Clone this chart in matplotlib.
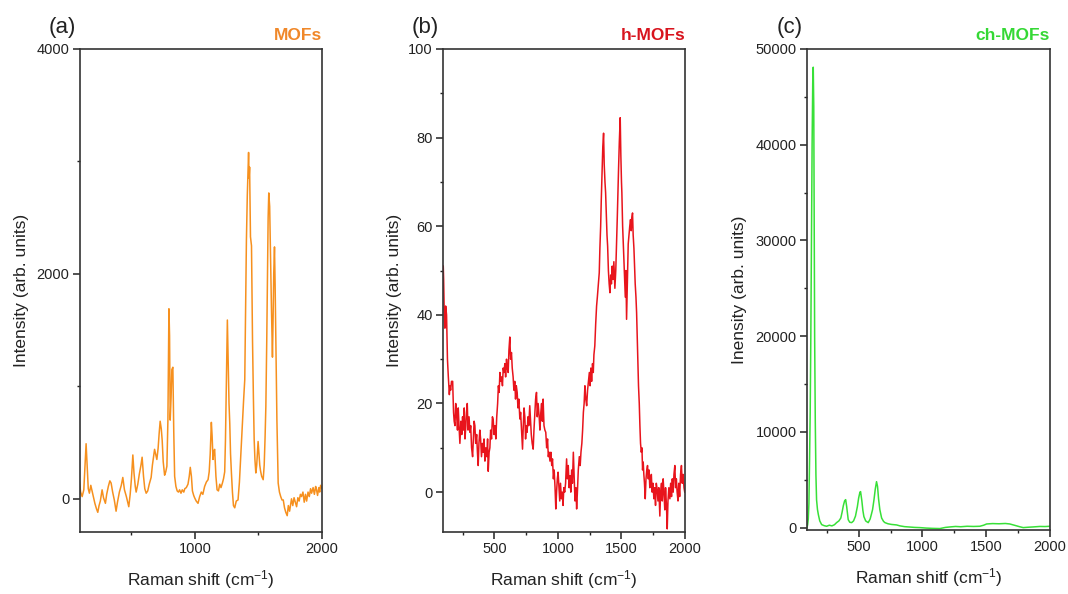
import numpy as np
import matplotlib
matplotlib.use('Agg')
import matplotlib.pyplot as plt
from matplotlib.ticker import MultipleLocator

plt.rcParams['font.family'] = ['Liberation Sans', 'DejaVu Sans']
plt.rcParams['mathtext.fontset'] = 'custom'
plt.rcParams['mathtext.rm'] = 'Liberation Sans'
plt.rcParams['mathtext.it'] = 'Liberation Sans:italic'
plt.rcParams['mathtext.bf'] = 'Liberation Sans:bold'

# (a) MOFs
mof_x = [90, 100, 112, 125, 135, 143, 150, 160, 169, 180, 190, 200, 212, 225, 235, 245, 255, 269, 280, 295,
         305, 318, 330, 340, 352, 365, 379, 390, 405, 420, 432, 445, 460, 479, 490, 500, 511, 520, 530, 537,
         550, 562, 575, 584, 595, 605, 616, 628, 640, 655, 665, 675, 682, 690, 700, 710, 718, 726, 735, 742,
         750, 761, 770, 779, 787, 795, 800, 805, 812, 818, 826, 833, 840, 850, 860, 870, 879, 890, 900, 912,
         920, 932, 945, 955, 963, 972, 980, 990, 997, 1010, 1024, 1037, 1050, 1062, 1076, 1090, 1103, 1112,
         1120, 1129, 1135, 1142, 1148, 1155, 1165, 1174, 1185, 1195, 1205, 1216, 1225, 1234, 1240, 1247, 1255,
         1262, 1268, 1274, 1280, 1287, 1295, 1303, 1313, 1325, 1339, 1350, 1358, 1366, 1375, 1383, 1392, 1398,
         1405, 1412, 1418, 1422, 1426, 1430, 1437, 1445, 1453, 1460, 1466, 1472, 1479, 1486, 1490, 1497, 1505,
         1510, 1516, 1525, 1537, 1545, 1552, 1558, 1565, 1571, 1576, 1581, 1588, 1595, 1602, 1610, 1615, 1620,
         1626, 1631, 1637, 1645, 1655, 1665, 1675, 1685, 1695, 1705, 1715, 1726, 1735, 1745, 1760, 1770, 1780,
         1790, 1800, 1810, 1820, 1830, 1839, 1850, 1860, 1870, 1879, 1890, 1900, 1910, 1918, 1930, 1940, 1950,
         1957, 1965, 1975, 1982, 1989, 2000]
mof_y = [150, 60, 20, 80, 300, 490, 330, 90, 50, 120, 70, 20, -40, -90, -120, -60, -20, 80, 10, -40,
         40, 110, 160, 140, 60, -10, -110, -30, 60, 120, 190, 80, 20, -70, 40, 180, 390, 230, 110, 60,
         130, 220, 300, 370, 200, 90, 50, 70, 130, 190, 300, 380, 440, 400, 350, 450, 580, 690, 620, 520,
         330, 210, 240, 290, 700, 1690, 1450, 700, 900, 1150, 1170, 600, 200, 110, 70, 60, 80, 50, 80, 60,
         90, 100, 130, 200, 280, 200, 70, 30, 10, -20, -40, 20, 60, 40, 110, 150, 170, 240,
         400, 680, 560, 350, 420, 440, 200, 80, 70, 130, 100, 140, 180, 240, 520, 1000, 1590,
         1200, 850, 670, 400, 230, 60, -60, -80, -20, -10, 150, 330, 520, 700, 880, 1060, 1600,
         2300, 2700, 2920, 3080, 2850, 2950, 2330, 2250, 1410, 900, 530, 350, 230, 300, 380, 510, 380,
         300, 250, 200, 170, 300, 550, 820, 1400, 2000, 2500, 2720, 2600, 2150, 1700, 1260, 1600, 2000,
         2240, 1900, 1410, 700, 140, 60, 20, -10, -10, -80, -120, -150, -60, -110, 0, -60, 10,
         -30, -70, 10, -20, 40, 20, 60, -30, 40, -20, 60, 20, 90, 50, 100, 40, 110,
         80, 30, 100, 60, 120, 90]

# (b) h-MOFs
hmof_x = [97, 100, 105, 110, 116, 123, 130, 137, 145, 150, 155, 162, 171, 178, 183, 189, 195, 203, 209, 215,
          221, 228, 236, 243, 249, 255, 262, 268, 275, 280, 286, 292, 300, 307, 313, 320, 328, 334, 340, 346,
          352, 360, 366, 372, 378, 385, 391, 398, 405, 412, 418, 425, 432, 440, 446, 451, 458, 464, 470, 477,
          484, 490, 497, 504, 511, 518, 525, 531, 537, 543, 550, 556, 563, 569, 575, 582, 588, 595, 601, 608,
          614, 621, 627, 634, 640, 647, 653, 660, 666, 672, 679, 685, 692, 700, 706, 713, 721, 727, 733, 739,
          745, 751, 757, 764, 770, 778, 784, 790, 797, 805, 811, 818, 824, 831, 837, 844, 852, 858, 865, 871,
          877, 883, 890, 897, 904, 911, 918, 924, 930, 937, 944, 951, 957, 964, 970, 977, 983, 989, 995, 1001,
          1008, 1014, 1020, 1027, 1034, 1040, 1046, 1053, 1060, 1068, 1074, 1081, 1088, 1095, 1101, 1108, 1114,
          1121, 1128, 1134, 1141, 1147, 1153, 1160, 1168, 1175, 1181, 1188, 1194, 1200, 1206, 1212, 1219, 1226,
          1233, 1240, 1247, 1253, 1259, 1265, 1272, 1278, 1283, 1290, 1297, 1304, 1310, 1318, 1325, 1330, 1336,
          1341, 1347, 1353, 1359, 1364, 1370, 1375, 1381, 1386, 1391, 1397, 1403, 1409, 1415, 1421, 1427, 1433,
          1440, 1448, 1455, 1461, 1467, 1472, 1477, 1483, 1490, 1495, 1500, 1503, 1509, 1514, 1519, 1525, 1530,
          1535, 1540, 1546, 1553, 1559, 1565, 1571, 1577, 1582, 1587, 1592, 1598, 1603, 1608, 1614, 1619, 1624,
          1629, 1634, 1640, 1645, 1650, 1656, 1661, 1666, 1671, 1676, 1681, 1687, 1693, 1699, 1705, 1711, 1717,
          1723, 1729, 1735, 1741, 1748, 1755, 1761, 1768, 1774, 1781, 1787, 1794, 1802, 1808, 1815, 1821, 1828,
          1834, 1841, 1847, 1854, 1860, 1866, 1873, 1881, 1887, 1894, 1900, 1907, 1913, 1920, 1926, 1932, 1938,
          1945, 1951, 1958, 1965, 1972, 1978, 1985, 1992, 1998]
hmof_y = [51, 48, 40, 37, 42, 40, 30, 26, 22, 24, 23, 25, 25, 18, 16, 15, 20, 17, 14, 19,
          15, 11, 16, 13, 17, 14, 19, 12, 15, 18, 20, 14, 17, 13.5, 15, 10, 8, 12, 16, 15,
          11, 13, 9, 6, 11, 14, 12, 8, 11, 9, 12, 7, 10, 8, 12, 4.7, 9, 10, 14, 12,
          17, 16.4, 13, 15, 12, 17, 20, 24, 22.5, 27, 25, 26, 24, 28, 27, 29, 26, 30, 28, 27,
          32, 35, 30, 31.5, 28, 26, 23, 25, 21, 24, 22.5, 19, 21, 16.5, 18, 14, 9.7, 15, 19, 17,
          12, 15, 13.5, 17, 15, 19.5, 16, 13, 11, 9.7, 14, 18, 21, 22.5, 17, 20, 17, 14, 18, 20,
          16, 21, 15, 14, 13.5, 10, 12, 8, 9, 7, 9, 6, 7.5, 3, 5, 1, -3.8, 0, 3, 4.5,
          1, -2, 2, -1.5, 0, -3, 1, 0, 2, 7.5, 3, 6, 1, 3.7, 0, 5, 2,
          9, 3, -2, 1, -3.8, 0, 5, 8, 6, 9, 11, 14, 18, 20, 24, 21, 19.5,
          23, 25, 27, 24, 28, 25, 29, 27, 31, 33, 38, 42, 44, 47, 49.5, 55, 60,
          66, 72, 78, 81, 74, 70, 67.6, 62, 58, 55.5, 50, 47, 45, 49, 47, 51, 48,
          52, 46, 50, 56, 62, 68, 73, 79, 84.5, 76, 70, 67.6, 60, 56, 52.5, 48, 44,
          50, 39, 47, 56, 58, 60, 61.5, 59, 62, 63, 58, 55, 51, 47, 44, 40.5, 35,
          29, 24, 20, 15, 11, 9, 10, 5, 6.8, 4, 2, -1.5, 3, 5, 6, 3, 5,
          1, 2.2, 4, 0, 2, -1.5, 1, -3, 2, 0.7, -2, 1, -5.4, 0, 2, -2, 3,
          0, -4, 1, -3, -8.3, -2, 1, -1.5, 2, -1, 3, 0, 4, 6, 1, 3, 0,
          -2, 2, -1, 4, 6, 2, 4, 1, 0]

# (c) ch-MOFs
chmof_x = [95, 100, 105, 110, 115, 120, 125, 130, 135, 140, 144, 148, 152, 155, 160, 165, 170, 177, 184, 195,
           210, 230, 249, 270, 290, 310, 327, 345, 360, 370, 380, 390, 398, 406, 418, 430, 445, 460, 475, 490,
           500, 510, 515, 525, 533, 541, 555, 575, 590, 600, 609, 620, 630, 640, 648, 656, 666, 680, 695, 706,
           730, 758, 797, 824, 860, 900, 940, 981, 1030, 1080, 1137, 1180, 1216, 1260, 1300, 1350, 1400, 1450,
           1480, 1503, 1550, 1600, 1650, 1685, 1720, 1760, 1790, 1830, 1868, 1920, 1960, 2000]
chmof_y = [0, 300, 900, 2500, 7000, 12000, 20000, 30000, 40000, 46500, 48100, 44000, 30000, 19800, 11000, 5500,
           2900, 1900, 1360, 700, 313, 200, 140, 250, 180, 300, 520, 700, 1000, 1600, 2300, 2800, 2920, 2200,
           835, 560, 520, 700, 1200, 2200, 3100, 3700, 3760, 2800, 1800, 1150, 700, 520, 900, 1400, 1880, 2900,
           4000, 4800, 4300, 3000, 1880, 1000, 650, 520, 400, 330, 280, 180, 100, 60, 20, 0, -50, -80, -100,
           20, 70, 120, 90, 140, 120, 140, 250, 380, 420, 400, 430, 380, 250, 100, 0, 40, 70, 120, 110, 140]

W, H = 1068, 594
fig = plt.figure(figsize=(W / 100, H / 100), dpi=100)

paneles = [
    dict(x=mof_x, y=mof_y, rect=[80, 49, 242, 483], color='#F6901E', tcolor='#F0882A', title='MOFs',
         tag='(a)', ylim=(-295, 4000), ymaj=2000, ymin=1000, xmaj=1000, xmin=500,
         ylab='Intensity (arb. units)', xlab='Raman shift (cm$^{-1}$)', ylabx=-0.21),
    dict(x=hmof_x, y=hmof_y, rect=[443, 49, 242, 483], color='#E8141C', tcolor='#D8141E', title='h-MOFs',
         tag='(b)', ylim=(-9, 100), ymaj=20, ymin=10, xmaj=500, xmin=250,
         ylab='Intensity (arb. units)', xlab='Raman shift (cm$^{-1}$)', ylabx=-0.17),
    dict(x=chmof_x, y=chmof_y, rect=[807, 49, 243, 481], color='#38E038', tcolor='#35D835', title='ch-MOFs',
         tag='(c)', ylim=(-250, 50000), ymaj=10000, ymin=5000, xmaj=500, xmin=250,
         ylab='Inensity (arb. units)', xlab='Raman shitf (cm$^{-1}$)', ylabx=-0.245),
]

for p in paneles:
    l, t, w, h = p['rect']
    ax = fig.add_axes([l / W, (H - t - h) / H, w / W, h / H])
    ax.plot(p['x'], p['y'], color=p['color'], lw=1.1)
    ax.set_xlim(95, 2000)
    ax.set_ylim(*p['ylim'])
    ax.xaxis.set_major_locator(MultipleLocator(p['xmaj']))
    ax.xaxis.set_minor_locator(MultipleLocator(p['xmin']))
    ax.yaxis.set_major_locator(MultipleLocator(p['ymaj']))
    ax.yaxis.set_minor_locator(MultipleLocator(p['ymin']))
    ax.tick_params(which='major', direction='out', length=5, width=1.1, labelsize=10.5,
                   colors='#222222', pad=2.5)
    ax.tick_params(which='minor', direction='out', length=2.5, width=1.0, colors='#222222')
    for s in ax.spines.values():
        s.set_linewidth(1.2)
        s.set_color('#333333')
    ax.set_xlabel(p['xlab'], fontsize=12.5, color='#222222')
    ax.set_ylabel(p['ylab'], fontsize=12.5, color='#222222')
    ax.yaxis.set_label_coords(p['ylabx'], 0.5)
    ax.xaxis.set_label_coords(0.5, -0.075)
    ax.text(1.0, 1.012, p['title'], transform=ax.transAxes, ha='right', va='bottom',
            fontsize=12.5, fontweight='bold', color=p['tcolor'])
    fig.text((l - 4) / W, 1 - 28 / H, p['tag'], ha='right', va='center', fontsize=16, color='#222222')

plt.savefig('out.png', dpi=100)
